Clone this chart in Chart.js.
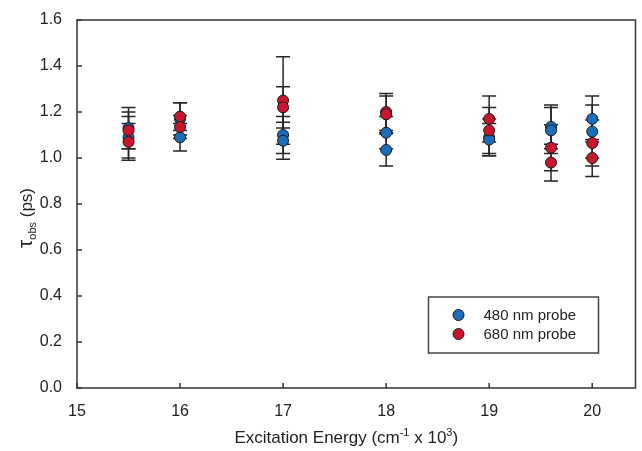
<!DOCTYPE html>
<html>
<head>
<meta charset="utf-8">
<script src="https://cdn.jsdelivr.net/npm/chart.js"></script>
<style>
    body { margin: 0; background: #fff; }
</style>
</head>
<body>
<canvas id="tau_chart" width="642" height="451"></canvas>
<script>
// excitation energies (cm-1 x 10^3), two measurements per energy
const energies = [15.5, 15.5, 16, 16, 17, 17, 18, 18, 19, 19, 19.6, 19.6, 20, 20];

// 480 nm probe: lifetime and error (ps)
const tau480 = [1.13, 1.09, 1.17, 1.09, 1.10, 1.075, 1.11, 1.035, 1.09, 1.08, 1.135, 1.12, 1.17, 1.115];
const err480 = [0.09, 0.09, 0.07, 0.06, 0.08, 0.08, 0.07, 0.07, 0.08, 0.07, 0.095, 0.10, 0.10, 0.115];

// 680 nm probe: lifetime and error (ps)
const tau680 = [1.12, 1.07, 1.18, 1.135, 1.25, 1.22, 1.20, 1.19, 1.17, 1.12, 1.045, 0.98, 1.065, 1.00];
const err680 = [0.08, 0.08, 0.06, 0.05, 0.19, 0.09, 0.08, 0.08, 0.10, 0.10, 0.10, 0.08, 0.10, 0.08];

const seriesLabels = ['480 nm probe', '680 nm probe'];
const xTicks = [15, 16, 17, 18, 19, 20];
const yTicks = [0, 0.2, 0.4, 0.6, 0.8, 1.0, 1.2, 1.4, 1.6];

const FONT = "'Liberation Sans', Arial, sans-serif";
const INK = '#222';

function toPoints(ys) {
    return energies.map(function (x, i) { return { x: x, y: ys[i] }; });
}

// vertical error bars with caps, under the markers
const errorBars = {
    id: 'errorBars',
    beforeDatasetsDraw: function (chart) {
        const ctx = chart.ctx, xs = chart.scales.x, ys = chart.scales.y;
        ctx.save();
        ctx.strokeStyle = '#262626';
        ctx.lineWidth = 1.5;
        chart.data.datasets.forEach(function (ds) {
            ds.data.forEach(function (p, i) {
                const px = xs.getPixelForValue(p.x);
                const top = ys.getPixelForValue(p.y + ds.errors[i]);
                const bot = ys.getPixelForValue(p.y - ds.errors[i]);
                ctx.beginPath();
                ctx.moveTo(px, top); ctx.lineTo(px, bot);
                ctx.moveTo(px - 7, top); ctx.lineTo(px + 7, top);
                ctx.moveTo(px - 7, bot); ctx.lineTo(px + 7, bot);
                ctx.stroke();
            });
        });
        ctx.restore();
    }
};

// box around the plot and inward tick marks
const frame = {
    id: 'frame',
    beforeDatasetsDraw: function (chart) {
        const ctx = chart.ctx, a = chart.chartArea;
        ctx.save();
        ctx.strokeStyle = '#333';
        ctx.lineWidth = 1.5;
        ctx.strokeRect(a.left, a.top, a.right - a.left, a.bottom - a.top);
        ctx.beginPath();
        chart.scales.x.ticks.forEach(function (t) {
            const px = chart.scales.x.getPixelForValue(t.value);
            ctx.moveTo(px, a.bottom); ctx.lineTo(px, a.bottom - 5);
        });
        chart.scales.y.ticks.forEach(function (t) {
            const py = chart.scales.y.getPixelForValue(t.value);
            ctx.moveTo(a.left, py); ctx.lineTo(a.left + 5, py);
        });
        ctx.stroke();
        ctx.restore();
    }
};

// axis titles with sub/superscripts
const axisTitles = {
    id: 'axisTitles',
    afterDraw: function (chart) {
        const ctx = chart.ctx, a = chart.chartArea;
        ctx.save();
        ctx.fillStyle = INK;
        ctx.textBaseline = 'alphabetic';

        const parts = [
            ['Excitation Energy (cm', 17, 0],
            ['-1', 11, -7],
            [' x 10', 17, 0],
            ['3', 11, -7],
            [')', 17, 0]
        ];
        let total = 0;
        parts.forEach(function (p) {
            ctx.font = p[1] + 'px ' + FONT;
            total += ctx.measureText(p[0]).width;
        });
        let x = (a.left + a.right) / 2 - 10 - total / 2;
        const y = a.bottom + 55;
        parts.forEach(function (p) {
            ctx.font = p[1] + 'px ' + FONT;
            ctx.fillText(p[0], x, y + p[2]);
            x += ctx.measureText(p[0]).width;
        });

        ctx.translate(32, (a.top + a.bottom) / 2 + 14);
        ctx.rotate(-Math.PI / 2);
        const yParts = [
            ['\u03c4', 21, 0],
            ['obs', 11, 4],
            [' (ps)', 17, 0]
        ];
        total = 0;
        yParts.forEach(function (p) {
            ctx.font = p[1] + 'px ' + FONT;
            total += ctx.measureText(p[0]).width;
        });
        x = -total / 2;
        yParts.forEach(function (p) {
            ctx.font = p[1] + 'px ' + FONT;
            ctx.fillText(p[0], x, p[2]);
            x += ctx.measureText(p[0]).width;
        });
        ctx.restore();
    }
};

// boxed legend in the lower right of the plot
const boxLegend = {
    id: 'boxLegend',
    afterDraw: function (chart) {
        const ctx = chart.ctx, a = chart.chartArea;
        const right = a.right - 37, bottom = a.bottom - 35;
        const w = 170, h = 56;
        const left = right - w, top = bottom - h;
        ctx.save();
        ctx.fillStyle = '#fff';
        ctx.fillRect(left, top, w, h);
        ctx.strokeStyle = '#444';
        ctx.lineWidth = 1.5;
        ctx.strokeRect(left, top, w, h);
        ctx.font = '15px ' + FONT;
        ctx.textBaseline = 'middle';
        chart.data.datasets.forEach(function (ds, i) {
            const cy = top + 18 + i * 19;
            ctx.beginPath();
            ctx.arc(left + 30, cy, 5.5, 0, Math.PI * 2);
            ctx.fillStyle = ds.backgroundColor;
            ctx.fill();
            ctx.strokeStyle = '#1a1a1a';
            ctx.lineWidth = 1;
            ctx.stroke();
            ctx.fillStyle = INK;
            ctx.fillText(ds.label, left + 55, cy + 1);
        });
        ctx.restore();
    }
};

const markerStyle = {
    pointRadius: 5.5,
    pointHoverRadius: 5.5,
    borderColor: '#1a1a1a',
    borderWidth: 1
};

new Chart(document.getElementById('tau_chart'), {
    type: 'scatter',
    data: {
        datasets: [
            Object.assign({
                label: seriesLabels[0],
                data: toPoints(tau480),
                errors: err480,
                backgroundColor: '#1c6db8',
                order: 1
            }, markerStyle),
            Object.assign({
                label: seriesLabels[1],
                data: toPoints(tau680),
                errors: err680,
                backgroundColor: '#c8162e',
                order: 0
            }, markerStyle)
        ]
    },
    options: {
        responsive: false,
        animation: false,
        layout: { padding: { top: 20, right: 3, left: 0, bottom: 0 } },
        plugins: {
            legend: { display: false },
            tooltip: { enabled: false }
        },
        scales: {
            x: {
                type: 'linear',
                min: 15,
                max: 20.42,
                grid: { display: false },
                border: { display: false },
                afterBuildTicks: function (scale) {
                    scale.ticks = xTicks.map(function (v) { return { value: v }; });
                },
                afterFit: function (scale) { scale.height = 63; },
                ticks: {
                    padding: 6,
                    maxRotation: 0,
                    color: INK,
                    font: { family: FONT, size: 16 }
                }
            },
            y: {
                type: 'linear',
                min: 0,
                max: 1.6,
                grid: { display: false },
                border: { display: false },
                afterBuildTicks: function (scale) {
                    scale.ticks = yTicks.map(function (v) { return { value: v }; });
                },
                afterFit: function (scale) { scale.width = 77; },
                ticks: {
                    padding: 7,
                    color: INK,
                    font: { family: FONT, size: 16 },
                    callback: function (v) { return Number(v).toFixed(1); }
                }
            }
        }
    },
    plugins: [errorBars, frame, axisTitles, boxLegend]
});
</script>
</body>
</html>
